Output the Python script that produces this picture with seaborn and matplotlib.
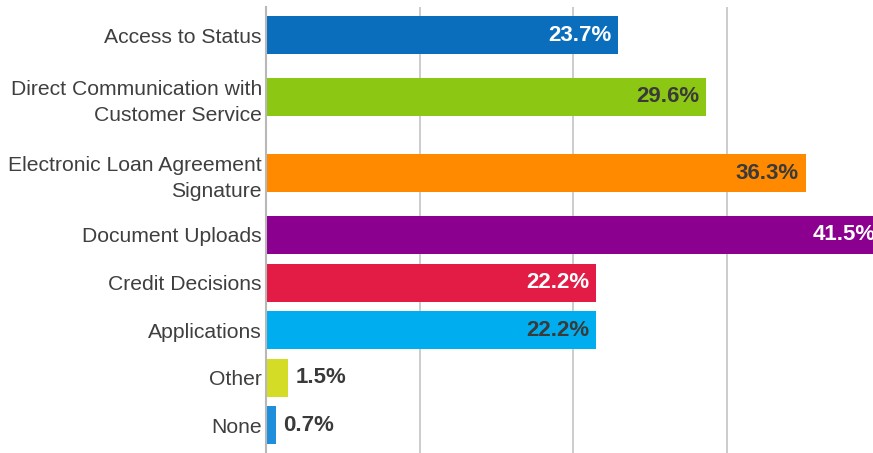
import matplotlib.pyplot as plt
import seaborn as sns
import numpy as np
import pandas as pd

# data
features = [
    'Access to Status',
    'Direct Communication with\nCustomer Service',
    'Electronic Loan Agreement\nSignature',
    'Document Uploads',
    'Credit Decisions',
    'Applications',
    'Other',
    'None',
]
shares = [23.7, 29.6, 36.3, 41.5, 22.2, 22.2, 1.5, 0.7]
bar_colors = ['#0a6ebd', '#8cc714', '#ff8a00', '#8c0090',
              '#e21c45', '#00aeef', '#d4dc26', '#1f8fdc']
label_colors = ['white', '#3a3a3a', '#3a3a3a', 'white',
                'white', '#3a3a3a', '#3a3a3a', '#3a3a3a']

sns.set_style('white')
plt.rcParams['font.family'] = ['Liberation Sans', 'DejaVu Sans']

# rows with two-line labels get extra room, like the original layout
n_lines = [f.count('\n') + 1 for f in features]
extra = 0.3
pos = [0.0]
for a, b in zip(n_lines[:-1], n_lines[1:]):
    pos.append(pos[-1] + 1 + extra * (a - 1) + extra * (b - 1))

df = pd.DataFrame({'feature': features, 'share': shares, 'pos': pos})

fig = plt.figure(figsize=(8.73, 4.53), dpi=100)
ax = fig.add_axes([266 / 873, 0, 1 - 266 / 873, 1 - 7 / 453])

sns.barplot(data=df, x='share', y='pos', hue='feature', palette=bar_colors,
            orient='h', native_scale=True, legend=False, saturation=1,
            linewidth=0, ax=ax)

step = 10.33
ax.set_xlim(0, 40.83)
ax.set_ylim(pos[-1] + 0.58, pos[0] - 0.59)
ax.set_xticks([step, 2 * step, 3 * step])
ax.set_xticklabels([])
ax.xaxis.grid(True, color='#c4c4c4', linewidth=1.2)
ax.set_axisbelow(True)
ax.tick_params(axis='both', length=0)
ax.set_yticks(pos)
ax.set_yticklabels(features, fontsize=15.2, color='#3f3f3f', linespacing=1.45)
ax.tick_params(axis='y', pad=3)
ax.set_xlabel('')
ax.set_ylabel('')

for s in ['top', 'right', 'bottom']:
    ax.spines[s].set_visible(False)
ax.spines['left'].set_color('#b8b8b8')
ax.spines['left'].set_linewidth(1.5)

for v, y, c in zip(shares, pos, label_colors):
    if v > 5:
        ax.annotate(f'{v}%', (v, y), xytext=(-5, 0), textcoords='offset points',
                    ha='right', va='center', fontsize=16, fontweight='bold',
                    color=c, annotation_clip=False, clip_on=True)
    else:
        ax.annotate(f'{v}%', (v, y), xytext=(5, 0), textcoords='offset points',
                    ha='left', va='center', fontsize=16, fontweight='bold',
                    color=c)

plt.savefig('out.png', dpi=100)
plt.close()
